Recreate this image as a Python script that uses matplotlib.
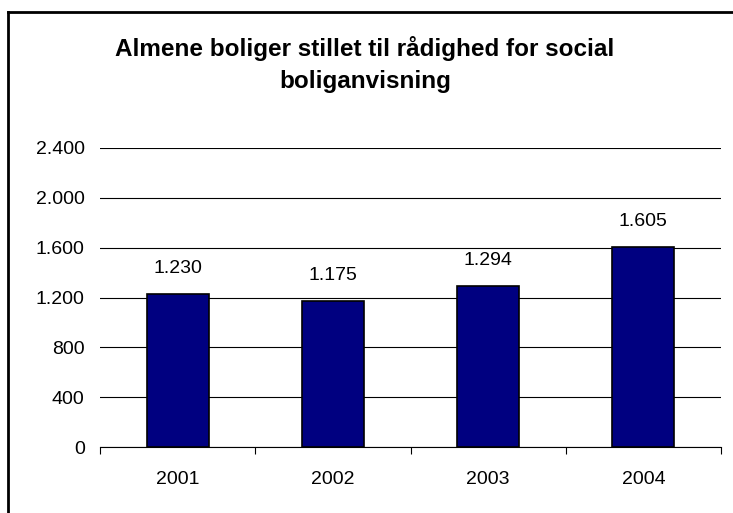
import matplotlib
matplotlib.use("Agg")
import matplotlib.pyplot as plt
from matplotlib.lines import Line2D

title = "Almene boliger stillet til rådighed for social\nboliganvisning"
years = ["2001", "2002", "2003", "2004"]
values = [1230, 1175, 1294, 1605]
labels = ["1.230", "1.175", "1.294", "1.605"]
yticks = [0, 400, 800, 1200, 1600, 2000, 2400]
ytick_labels = ["0", "400", "800", "1.200", "1.600", "2.000", "2.400"]

W, H = 733, 513
fig = plt.figure(figsize=(W / 100, H / 100), dpi=100)
plt.rcParams['font.family'] = ['Liberation Sans', 'DejaVu Sans']

ax = fig.add_axes([100 / W, (H - 447) / H, (721 - 100) / W, (447 - 148) / H])
x = list(range(len(years)))
ax.bar(x, values, width=0.4, color="#000080", edgecolor="black", linewidth=1.2, zorder=3)
for xi, v, lab in zip(x, values, labels):
    ax.text(xi, v + 205, lab, ha="center", va="center", fontsize=14, color="black")

ax.set_xlim(-0.5, len(years) - 0.5)
ax.set_ylim(0, 2400)
ax.set_yticks(yticks)
ax.set_yticklabels(ytick_labels, fontsize=14)
ax.tick_params(axis="y", length=0, pad=11)
ax.yaxis.grid(True, color="black", linewidth=0.8, zorder=0)
ax.set_axisbelow(True)

ax.set_xticks([i - 0.5 for i in range(len(years) + 1)], minor=False)
ax.set_xticklabels([])
ax.set_xticks(x, minor=True)
ax.set_xticklabels(years, minor=True, fontsize=14)
ax.tick_params(axis="x", which="major", length=5, direction="out", width=0.8)
ax.tick_params(axis="x", which="minor", length=0, pad=17.5)

for s in ["top", "right", "left"]:
    ax.spines[s].set_visible(False)
ax.spines["bottom"].set_linewidth(0.8)

fig.text(365 / W, 1 - 64.5 / H, title, ha="center", va="center", fontsize=17.5,
         fontweight="bold", linespacing=1.5)

fig.add_artist(Line2D([8 / W, 8 / W], [0, 1 - 12 / H], color="black", linewidth=2, transform=fig.transFigure))
fig.add_artist(Line2D([8 / W, 1], [1 - 12 / H, 1 - 12 / H], color="black", linewidth=2, transform=fig.transFigure))

fig.savefig("out.png", dpi=100)
